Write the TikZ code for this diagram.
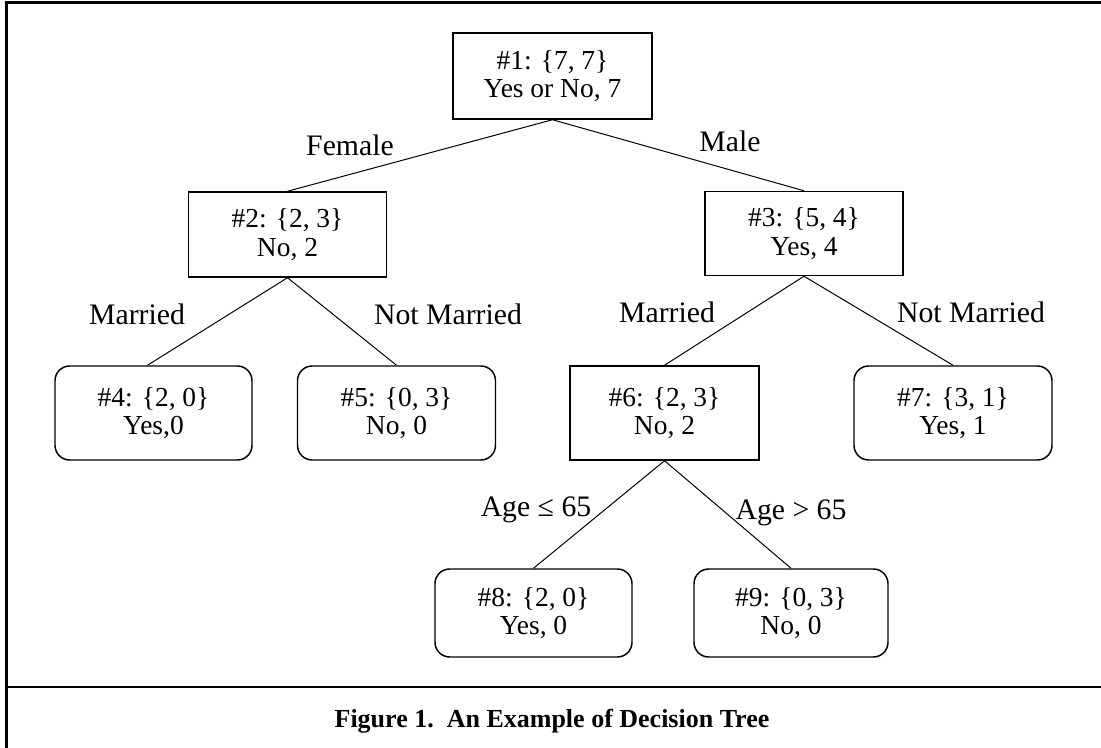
\documentclass[tikz,border=0pt]{standalone}
\usepackage{fontspec}
\setmainfont{Liberation Serif}
\newlength\pxu
\setlength\pxu{0.75pt}
\begin{document}
\begin{tikzpicture}[x=0.75pt,y=-0.75pt,
  box/.style={draw,line width=1.1pt,inner sep=0pt,align=center,
    font=\fontsize{20.6pt}{21.5pt}\selectfont},
  leaf/.style={box,rounded corners=11pt},
  lbl/.style={inner sep=0pt,anchor=base,font=\fontsize{22.3pt}{24pt}\selectfont},
  edge/.style={line width=0.75pt},
  frameline/.style={line width=2pt}]
\useasboundingbox (0,0) rectangle (1101,748);
% frame
\coordinate (tl) at (6.7,2.5);
\coordinate (tr) at (1101,2.5);
\coordinate (bl) at (6.7,748);
\coordinate (dl) at (6.7,687);
\coordinate (dr) at (1101,687);
\draw[frameline] (tr) -- (tl) -- (bl);
\draw[frameline] (dl) -- (dr);
% nodes
\node[box,minimum width=199\pxu,minimum height=86\pxu] (n1) at (552.5,76) {\#1: \{7, 7\}\\Yes or No, 7};
\node[box,minimum width=198\pxu,minimum height=85\pxu] (n2) at (287.5,234.5) {\#2: \{2, 3\}\\No, 2};
\node[box,minimum width=198\pxu,minimum height=84\pxu] (n3) at (804,233.5) {\#3: \{5, 4\}\\Yes, 4};
\node[leaf,minimum width=197\pxu,minimum height=94\pxu] (n4) at (153.5,413) {\#4: \{2, 0\}\\Yes,0};
\node[leaf,minimum width=198\pxu,minimum height=94\pxu] (n5) at (396.5,413) {\#5: \{0, 3\}\\No, 0};
\node[box,minimum width=189\pxu,minimum height=94\pxu] (n6) at (664.5,413) {\#6: \{2, 3\}\\No, 2};
\node[leaf,minimum width=198\pxu,minimum height=94\pxu] (n7) at (953,413) {\#7: \{3, 1\}\\Yes, 1};
\node[leaf,minimum width=197\pxu,minimum height=88\pxu] (n8) at (533.5,613) {\#8: \{2, 0\}\\Yes, 0};
\node[leaf,minimum width=194\pxu,minimum height=88\pxu] (n9) at (791,613) {\#9: \{0, 3\}\\No, 0};
% edges
\draw[edge] (n1.south) -- (n2.north);
\draw[edge] (n1.south) -- (n3.north);
\draw[edge] (n2.south) -- ([xshift=-6\pxu]n4.north);
\draw[edge] (n2.south) -- (n5.north);
\draw[edge] (n3.south) -- (n6.north);
\draw[edge] (n3.south) -- (n7.north);
\draw[edge] (n6.south) -- (n8.north);
\draw[edge] (n6.south) -- (n9.north);
% labels
\node[lbl] (lfemale) at (350,156) {Female};
\node[lbl] (lmale) at (730,152) {Male};
\node[lbl] (lm1) at (137,325) {Married};
\node[lbl] (lnm1) at (448,325) {Not Married};
\node[lbl] (lm2) at (667,323) {Married};
\node[lbl] (lnm2) at (971,323) {Not Married};
\node[lbl] (lage1) at (536,517) {Age ≤ 65};
\node[lbl] (lage2) at (791,520) {Age > 65};
% caption
\node[inner sep=0pt,anchor=base,font=\fontsize{19.5pt}{22pt}\selectfont\bfseries] (cap) at (552,728) {Figure 1.\ \ An Example of Decision Tree};
\end{tikzpicture}
\end{document}
